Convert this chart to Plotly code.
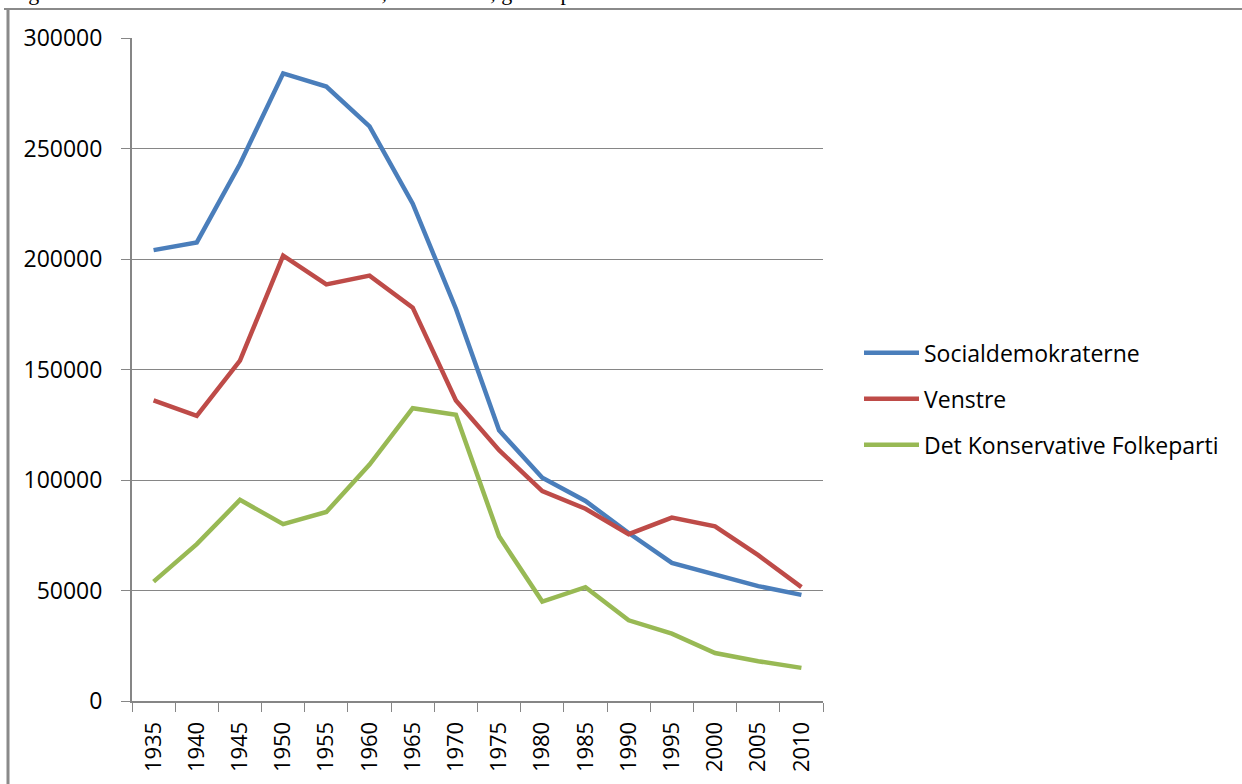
import plotly.graph_objects as go

years = ["1935", "1940", "1945", "1950", "1955", "1960", "1965", "1970",
         "1975", "1980", "1985", "1990", "1995", "2000", "2005", "2010"]
socialdemokraterne = [204000, 207500, 243000, 284000, 278000, 260000, 225000, 177500,
                      122500, 101000, 90500, 76000, 62500, 57500, 52000, 48000]
venstre = [136000, 129000, 154000, 201500, 188500, 192500, 178000, 136000,
           113500, 95000, 87000, 75500, 83000, 79000, 66000, 51500]
konservative = [54000, 71000, 91000, 80000, 85500, 107000, 132500, 129500,
                74500, 45000, 51500, 36500, 30500, 21700, 18000, 15000]
series_names = ["Socialdemokraterne", "Venstre", "Det Konservative Folkeparti"]
series_colors = ["#4A7EBB", "#BE4B48", "#98B954"]
y_ticks = [0, 50000, 100000, 150000, 200000, 250000, 300000]
caption = "Figur 1: Partiernes medlemstal 1935-2010, de tre store, gamle partier"

FONT = "Open Sans"
fig = go.Figure()
for name, vals, col in zip(series_names, [socialdemokraterne, venstre, konservative], series_colors):
    fig.add_trace(go.Scatter(x=years, y=vals, name=name, mode="lines",
                             line=dict(color=col, width=4.5),
                             legendgroup=name))

W, H = 1242, 784
L, R, T, B = 132, 823, 38, 703
fig.update_layout(
    width=W, height=H,
    margin=dict(l=L, r=W - R, t=T, b=H - B, pad=0),
    plot_bgcolor="white", paper_bgcolor="white",
    font=dict(family=FONT, size=21, color="#000000"),
    showlegend=True,
    legend=dict(x=(859 - L) / (R - L), xanchor="left",
                y=(B - 400) / (B - T), yanchor="middle",
                font=dict(family=FONT, size=23, color="#000000"),
                tracegroupgap=13, itemwidth=55,
                bgcolor="rgba(0,0,0,0)"),
    xaxis=dict(type="category", range=[-0.5, len(years) - 0.5],
               tickangle=-90, showgrid=False,
               showline=True, linecolor="#868686", linewidth=2,
               ticks="outside", tickson="boundaries", ticklen=9,
               tickcolor="#868686", tickwidth=1,
               tickfont=dict(family=FONT, size=22, color="#000000"),
               ticklabelstandoff=10),
    yaxis=dict(range=[0, 300000], tickvals=y_ticks,
               ticktext=[str(v) for v in y_ticks],
               showgrid=True, gridcolor="#868686", gridwidth=1,
               showline=True, linecolor="#868686", linewidth=2,
               ticks="outside", ticklen=9, tickcolor="#868686", tickwidth=1,
               tickfont=dict(family=FONT, size=23, color="#000000"),
               ticklabelstandoff=14, zeroline=False),
)

def px_x(p):
    return (p - L) / (R - L)

def px_y(p):
    return (B - p) / (B - T)

# outer frame lines of the embedded chart
fig.add_shape(type="line", xref="paper", yref="paper",
              x0=px_x(4), x1=px_x(1242), y0=px_y(9), y1=px_y(9),
              line=dict(color="#8a8a8a", width=2))
fig.add_shape(type="line", xref="paper", yref="paper",
              x0=px_x(8), x1=px_x(8), y0=px_y(9), y1=px_y(790),
              line=dict(color="#8a8a8a", width=3))

fig.add_annotation(text=caption, xref="paper", yref="paper",
                   x=px_x(8), y=px_y(7), xanchor="left", yanchor="bottom",
                   showarrow=False,
                   font=dict(family="Liberation Serif", size=22, color="#000000"))

fig.write_html("out.html", config={"displayModeBar": False},
               post_script="document.body.style.margin='0';document.body.style.overflow='hidden';")
